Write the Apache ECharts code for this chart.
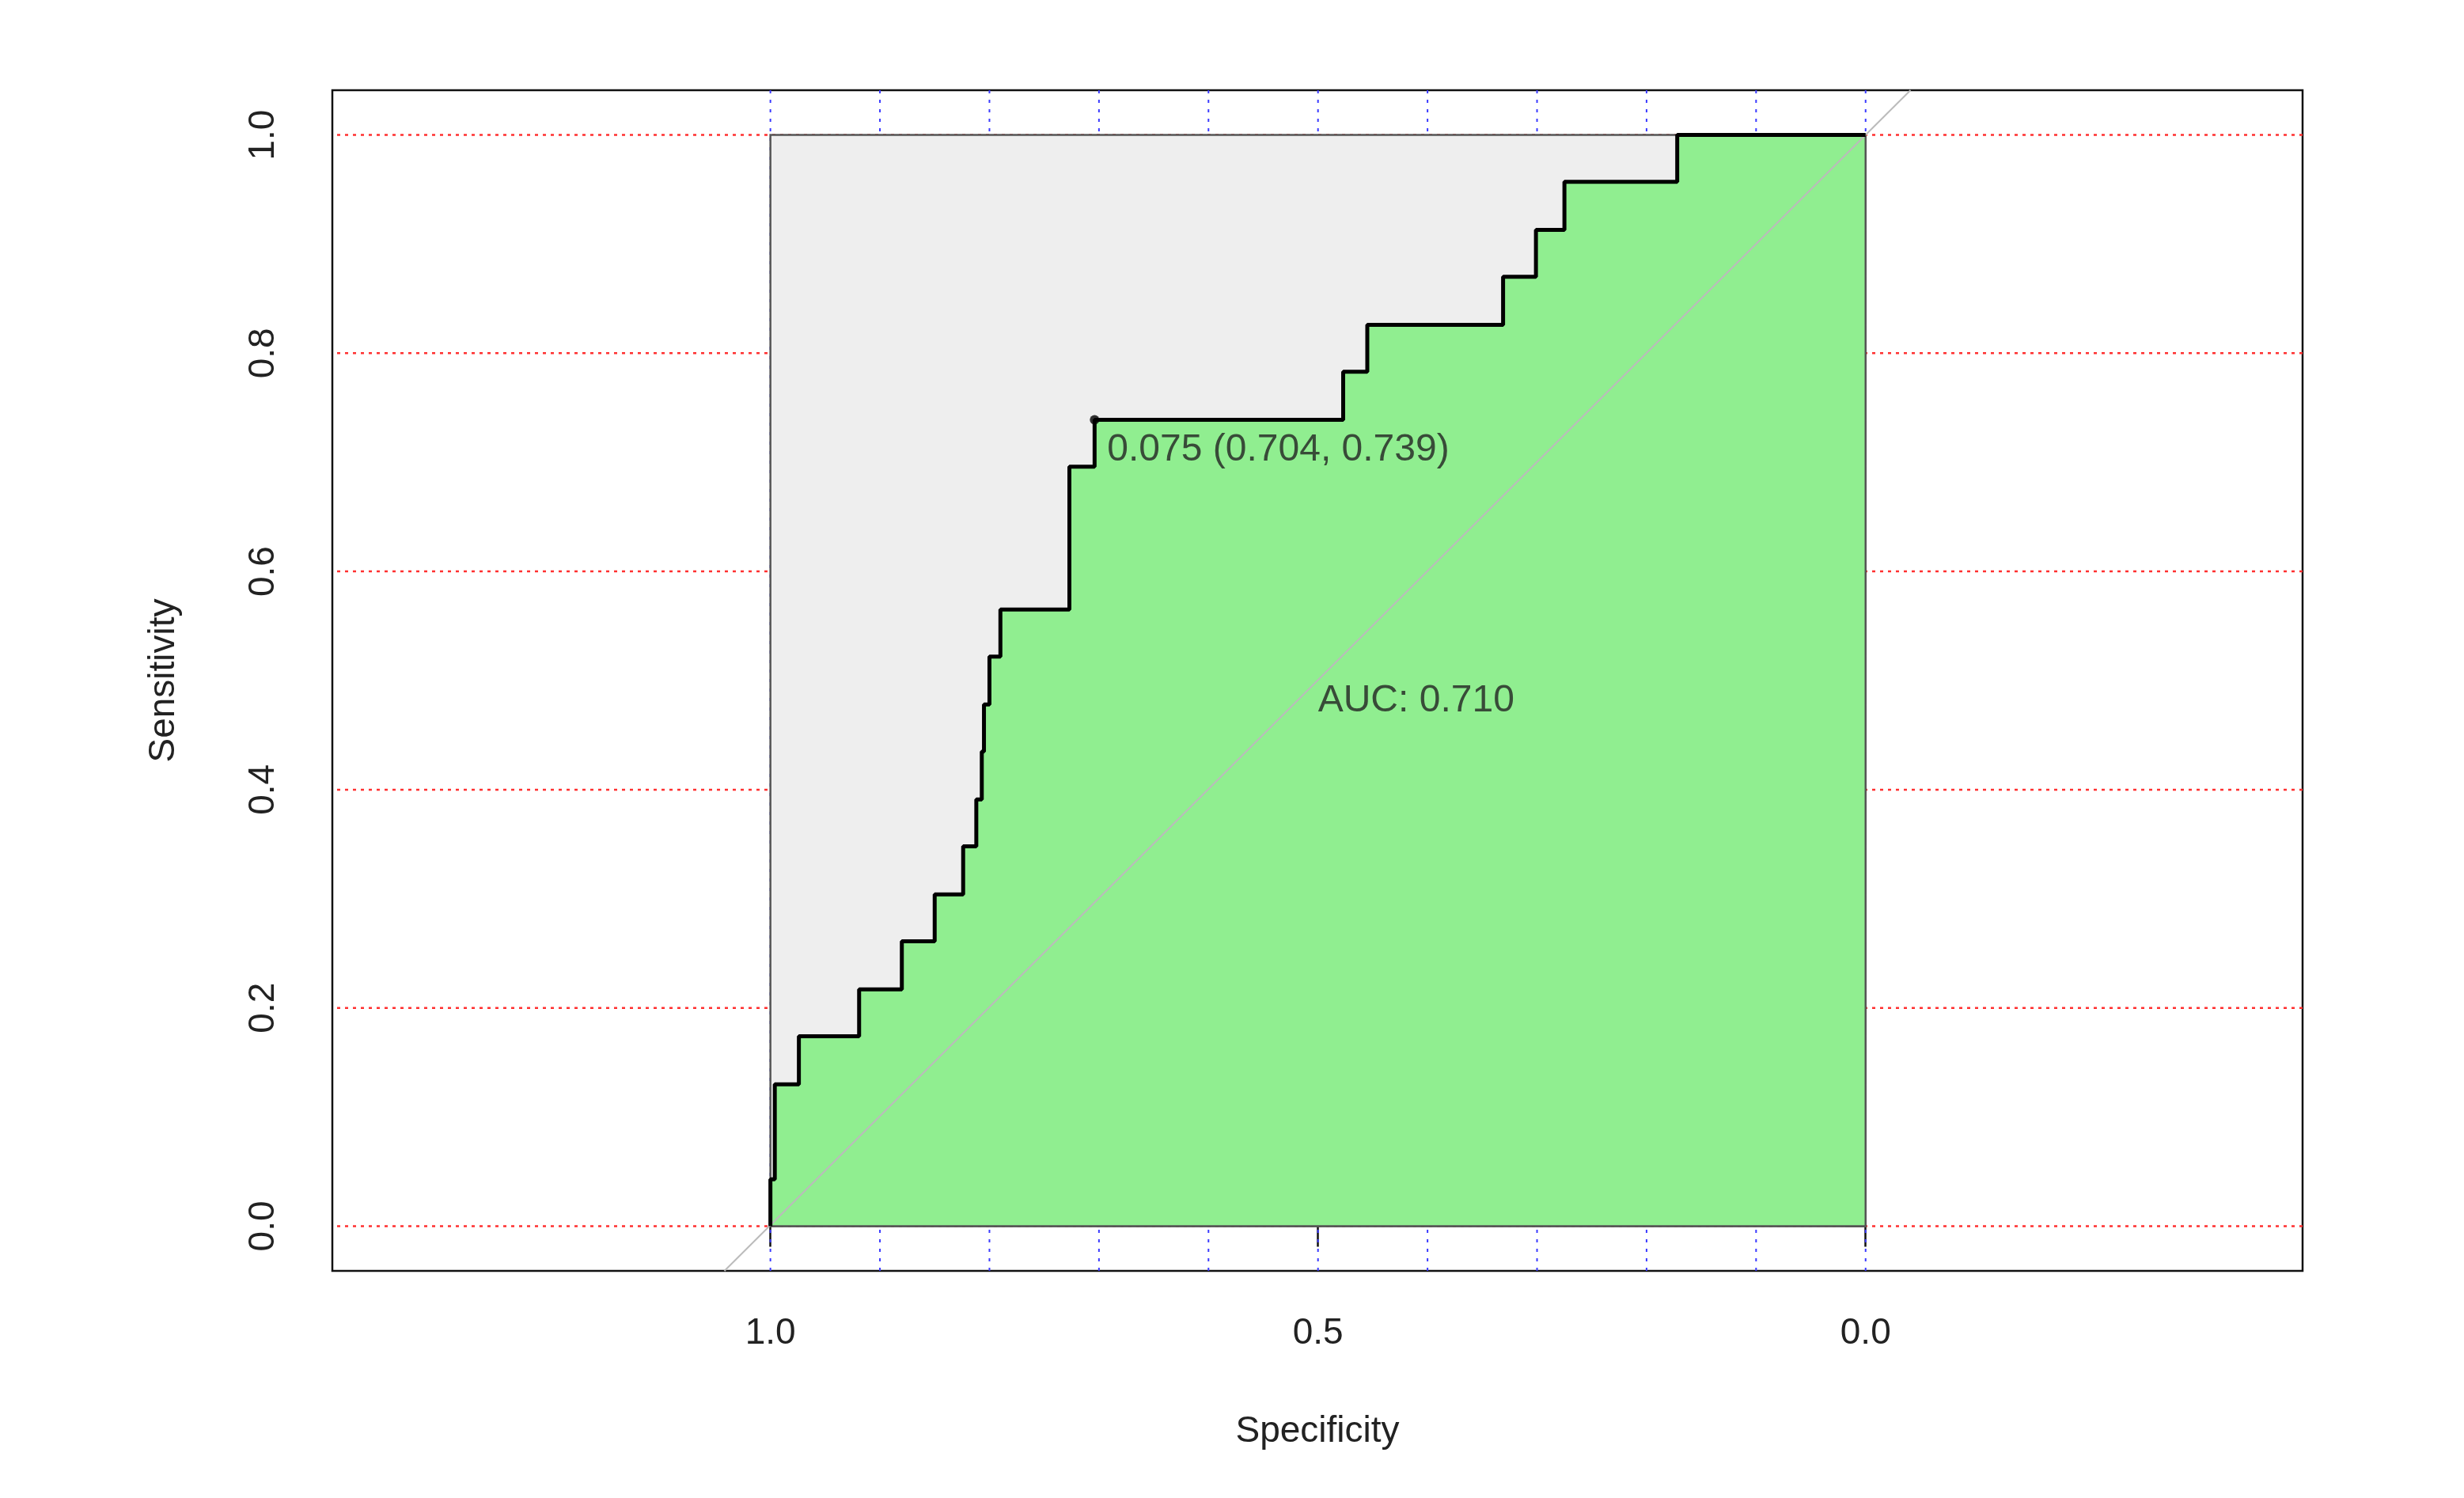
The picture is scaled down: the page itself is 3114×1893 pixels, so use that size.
<!DOCTYPE html>
<html><head><meta charset="utf-8">
<script src="https://cdn.jsdelivr.net/npm/echarts@6/dist/echarts.min.js"></script>
<style>html,body{margin:0;padding:0;background:#fff}#c{width:3114px;height:1893px}</style>
</head><body><div id="c"></div>
<script>
// ROC vertices (stepped), specificity and sensitivity
const rocSpec = [1.0, 1.0, 0.996, 0.996, 0.974, 0.974, 0.919, 0.919, 0.880, 0.880, 0.850, 0.850, 0.824, 0.824, 0.812, 0.812, 0.807, 0.807, 0.805, 0.805, 0.800, 0.800, 0.790, 0.790, 0.727, 0.727, 0.704, 0.704, 0.477, 0.477, 0.455, 0.455, 0.331, 0.331, 0.301, 0.301, 0.275, 0.275, 0.172, 0.172, 0.0];
const rocSens = [0.0, 0.043, 0.043, 0.130, 0.130, 0.174, 0.174, 0.217, 0.217, 0.261, 0.261, 0.304, 0.304, 0.348, 0.348, 0.391, 0.391, 0.435, 0.435, 0.478, 0.478, 0.522, 0.522, 0.565, 0.565, 0.696, 0.696, 0.739, 0.739, 0.783, 0.783, 0.826, 0.826, 0.870, 0.870, 0.913, 0.913, 0.957, 0.957, 1.0, 1.0];
const bestPoint = [0.704, 0.739];
const bestLabel = '0.075 (0.704, 0.739)';
const aucLabel = 'AUC: 0.710';
const xTicks = [1.0, 0.5, 0.0];
const yTicks = [0.0, 0.2, 0.4, 0.6, 0.8, 1.0];
const vGrid = [0.0, 0.1, 0.2, 0.3, 0.4, 0.5, 0.6, 0.7, 0.8, 0.9, 1.0];
const hGrid = [0.0, 0.2, 0.4, 0.6, 0.8, 1.0];

const XMIN = -0.399, XMAX = 1.4, YMIN = -0.041, YMAX = 1.041;
const font = 'Liberation Sans, Arial, sans-serif';
const chart = echarts.init(document.getElementById('c'));

const gridSeries = [];
vGrid.forEach(v => gridSeries.push({type:'line', data:[[v,YMIN],[v,YMAX]], symbol:'none', silent:true, z:1,
  lineStyle:{color:'#3b3bff', width:2, type:[4,8]}}));
hGrid.forEach(v => gridSeries.push({type:'line', data:[[XMIN,v],[XMAX,v]], symbol:'none', silent:true, z:1,
  lineStyle:{color:'#ff3030', width:2.5, type:[4,6]}}));

function poly(pts, style){
  return {type:'custom', z:2, silent:true, data:[0],
    renderItem:(p, api)=>({type:'polygon', shape:{points: pts.map(q=>api.coord(q))}, style:style})};
}
const squarePts = [[1,0],[1,1],[0,1],[0,0]];
const rocPts = rocSpec.map((s,i)=>[s, rocSens[i]]);
const greenPts = rocPts.concat([[0,0],[1,0]]);

chart.setOption({
  animation:false,
  grid:{left:420, right:204, top:114, bottom:287, show:true, borderColor:'#111', borderWidth:2.5, backgroundColor:'transparent'},
  xAxis:{type:'value', inverse:true, min:XMIN, max:XMAX,
    name:'Specificity', nameLocation:'middle', nameGap:180,
    nameTextStyle:{fontFamily:font, fontSize:46, color:'#222'},
    axisLine:{show:false}, splitLine:{show:false},
    axisTick:{show:true, length:26, customValues:xTicks, lineStyle:{color:'#111', width:2.5}},
    axisLabel:{customValues:xTicks, margin:56, fontFamily:font, fontSize:46, color:'#222', formatter:v=>v.toFixed(1)}},
  yAxis:{type:'value', min:YMIN, max:YMAX,
    name:'Sensitivity', nameLocation:'middle', nameGap:190, nameRotate:90,
    nameTextStyle:{fontFamily:font, fontSize:46, color:'#222'},
    axisLine:{show:false}, splitLine:{show:false},
    axisTick:{show:true, length:26, customValues:yTicks, lineStyle:{color:'#111', width:2.5}},
    axisLabel:{customValues:yTicks, rotate:90, margin:64, fontFamily:font, fontSize:46, color:'#222', formatter:v=>v.toFixed(1)}},
  series: gridSeries.concat([
    poly(squarePts, {fill:'#eeeeee', stroke:'#555', lineWidth:2.5}),
    poly(greenPts, {fill:'#90ee90', stroke:'#555', lineWidth:2.5}),
    {type:'line', z:3, data:[[1.042,-0.041],[-0.041,1.041]], symbol:'none', silent:true,
      lineStyle:{color:'#bbbbbb', width:2}},
    {type:'line', z:4, data:rocPts, symbol:'none', silent:true, lineStyle:{color:'#000', width:5}},
    {type:'scatter', z:5, data:[bestPoint], symbolSize:12, itemStyle:{color:'#000'},
      label:{show:true, formatter:bestLabel, position:'right', offset:[0,38], distance:10,
        fontFamily:font, fontSize:48, color:'#222'}},
    {type:'scatter', z:5, data:[[0.5,0.481]], symbolSize:0,
      label:{show:true, formatter:aucLabel, position:'right', distance:0,
        fontFamily:font, fontSize:48, color:'#222'}}
  ])
});
</script></body></html>
